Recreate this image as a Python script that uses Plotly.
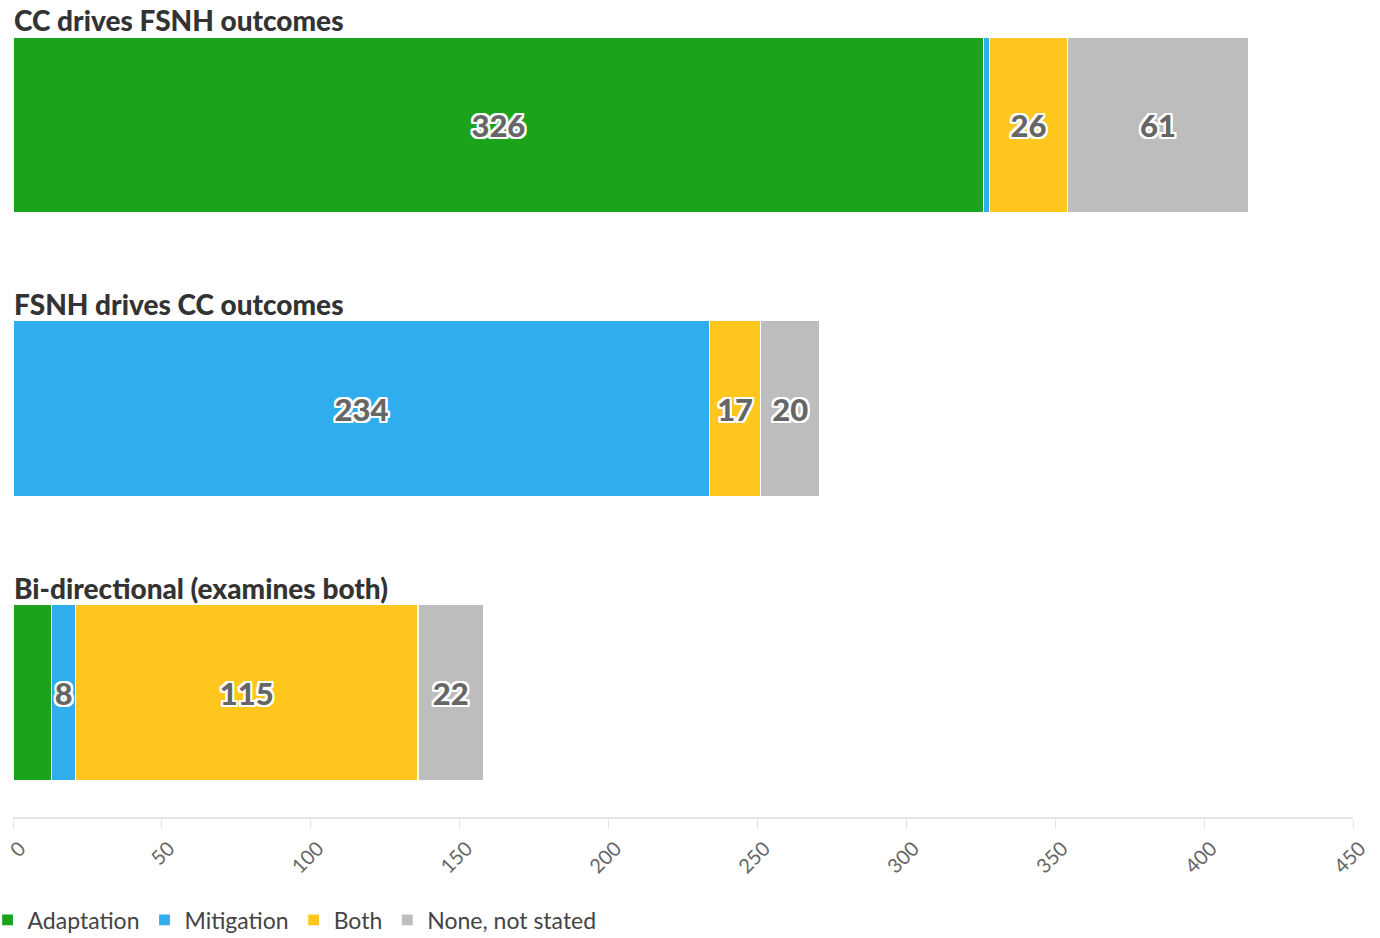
import plotly.graph_objects as go

# Study counts by direction of the CC / FSNH relationship
groups = ["CC drives FSNH outcomes", "FSNH drives CC outcomes", "Bi-directional (examines both)"]
series_names = ["Adaptation", "Mitigation", "Both", "None, not stated"]
adaptation = [326, 0, 13]
mitigation = [2, 234, 8]
both = [26, 17, 115]
none_stated = [61, 20, 22]
# which segment values are printed on the bars
show_label = {
    "Adaptation": [True, False, False],
    "Mitigation": [False, True, True],
    "Both": [True, True, True],
    "None, not stated": [True, True, True],
}
x_ticks = [0, 50, 100, 150, 200, 250, 300, 350, 400, 450]

colors = ["#1ba31c", "#2faded", "#ffc71e", "#bdbdbd"]
values = [adaptation, mitigation, both, none_stated]

outline = ",".join(
    f"{dx}px {dy}px 0 #ffffff"
    for dx, dy in [(-2, 0), (2, 0), (0, -2), (0, 2), (-1, -1), (1, -1), (-1, 1), (1, 1),
                   (-2, -1), (2, -1), (-2, 1), (2, 1), (-1, -2), (1, -2), (-1, 2), (1, 2),
                   (-2, -2), (2, -2), (-2, 2), (2, 2)]
)

ypos = list(range(len(groups)))
fig = go.Figure()
for name, vals, col in zip(series_names, values, colors):
    labels = [str(v) if s else "" for v, s in zip(vals, show_label[name])]
    fig.add_trace(go.Bar(
        name=name,
        y=ypos,
        x=vals,
        orientation="h",
        width=0.62,
        marker=dict(color=col, line=dict(color="#ffffff", width=1.2)),
        text=labels,
        textposition="inside",
        insidetextanchor="middle",
        textangle=0,
        textfont=dict(family="Lato", size=31, color="#666666", weight=900, shadow=outline),
        hoverinfo="x+name",
    ))

for i, g in enumerate(groups):
    fig.add_annotation(
        x=0, xref="paper", xanchor="left",
        y=i - 0.31, yref="y", yanchor="bottom", yshift=-1,
        text=g, showarrow=False,
        font=dict(family="Lato", size=28, color="#333333", weight=900),
        borderpad=0,
    )

fig.update_layout(
    barmode="stack",
    width=1380, height=938,
    margin=dict(l=13, r=27, t=0, b=121, autoexpand=False),
    paper_bgcolor="#ffffff", plot_bgcolor="#ffffff",
    font=dict(family="Lato", color="#666666"),
    showlegend=True,
    legend=dict(
        orientation="h", x=-0.019, xanchor="left", y=-0.126, yanchor="middle",
        font=dict(family="Lato", size=23, color="#444444"),
        itemwidth=30, traceorder="normal", tracegroupgap=0,
    ),
    xaxis=dict(
        range=[0, 450], tickvals=x_ticks, ticktext=[str(t) for t in x_ticks],
        showgrid=False, zeroline=False,
        showline=True, linecolor="#e6e6e6", linewidth=2,
        ticks="outside", ticklen=10, tickcolor="#e6e6e6", tickwidth=1,
        tickangle=-45, tickfont=dict(family="Lato", size=20, color="#666666"),
        ticklabeloverflow="allow", ticklabelshift=7,
    ),
    yaxis=dict(range=[2.437, -0.44], visible=False, fixedrange=True),
)

fig.write_html("out.html")
